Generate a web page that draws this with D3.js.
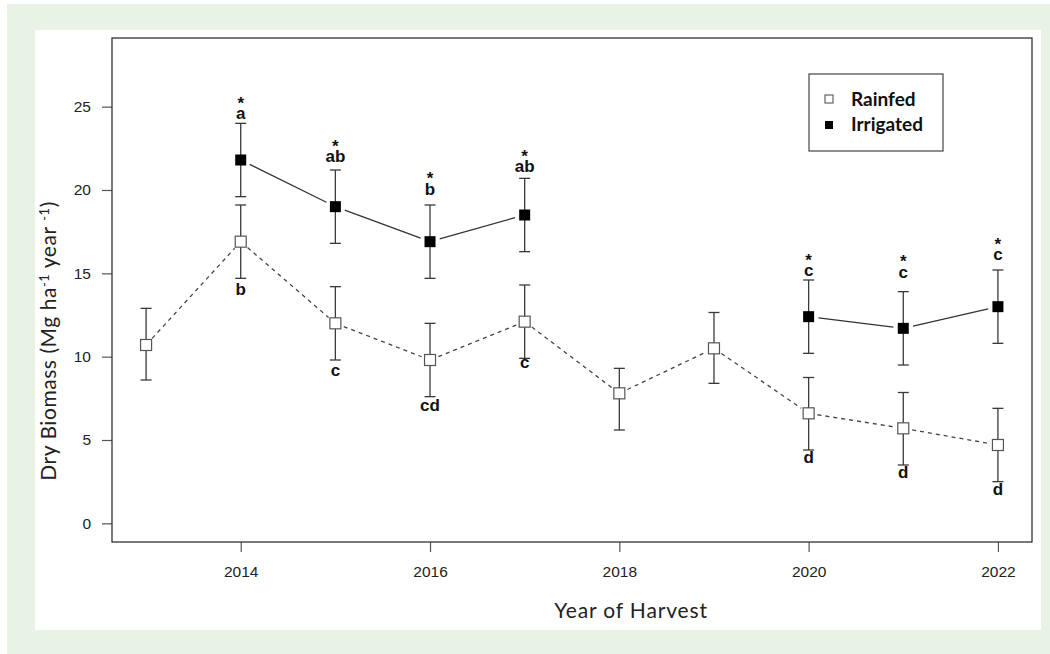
<!DOCTYPE html>
<html>
<head>
<meta charset="utf-8">
<script src="https://cdn.jsdelivr.net/npm/d3@7"></script>
<style>
  html, body { margin: 0; padding: 0; background: #ffffff; }
  svg { display: block; }
</style>
</head>
<body>
<svg id="chart" width="1050" height="654"></svg>
<script>
// Dry biomass by harvest year, means with error bars and significance letters
const rainfedYears   = [2013, 2014, 2015, 2016, 2017, 2018, 2019, 2020, 2021, 2022];
const rainfedMean    = [10.7, 16.9, 12.0, 9.8, 12.1, 7.8, 10.5, 6.6, 5.7, 4.7];
const rainfedLow     = [8.6, 14.7, 9.8, 7.6, 9.9, 5.6, 8.4, 4.4, 3.5, 2.5];
const rainfedHigh    = [12.9, 19.1, 14.2, 12.0, 14.3, 9.3, 12.65, 8.75, 7.85, 6.9];
const rainfedLetters = ["", "b", "c", "cd", "c", "", "", "d", "d", "d"];

const irrigatedYears   = [2014, 2015, 2016, 2017, 2020, 2021, 2022];
const irrigatedMean    = [21.8, 19.0, 16.9, 18.5, 12.4, 11.7, 13.0];
const irrigatedLow     = [19.6, 16.8, 14.7, 16.3, 10.2, 9.5, 10.8];
const irrigatedHigh    = [24.0, 21.2, 19.1, 20.7, 14.6, 13.9, 15.2];
const irrigatedLetters = ["a", "ab", "b", "ab", "c", "c", "c"];
const irrigatedStars   = ["*", "*", "*", "*", "*", "*", "*"];

const xTicks = [2014, 2016, 2018, 2020, 2022];
const yTicks = [0, 5, 10, 15, 20, 25];
const legendLabels = ["Rainfed", "Irrigated"];

// label spacing (px) between a bar end and its letter
const gapAboveIrrigated = [4, 8, 10.5, 6, 4, 14, 10];
const gapBelowRainfed   = [0, 17, 16, 14, 10, 0, 0, 13, 13, 13];

const svg = d3.select("#chart");

// page frame
svg.append("rect").attr("x", 7).attr("y", 4).attr("width", 1043).attr("height", 650).attr("fill", "#e8f3e6");
svg.append("rect").attr("x", 35).attr("y", 30).attr("width", 1006).attr("height", 600).attr("fill", "#ffffff");

const plotLeft = 112, plotRight = 1032, plotTop = 38, plotBottom = 542;
const xPad = (2022 - 2013) * 0.04, yPad = 28 * 0.04;
const x = d3.scaleLinear().domain([2013 - xPad, 2022 + xPad]).range([plotLeft, plotRight]);
const y = d3.scaleLinear().domain([0 - yPad, 28 + yPad]).range([plotBottom, plotTop]);

const tickFont = "'Liberation Sans', Arial, sans-serif";

// axes
const gx = svg.append("g").attr("transform", `translate(0,${plotBottom})`)
  .call(d3.axisBottom(x).tickValues(xTicks).tickFormat(d3.format("d")).tickSize(10).tickPadding(14).tickSizeOuter(0));
const gy = svg.append("g").attr("transform", `translate(${plotLeft},0)`)
  .call(d3.axisLeft(y).tickValues(yTicks).tickSize(10).tickPadding(11).tickSizeOuter(0));
[gx, gy].forEach(g => {
  g.select(".domain").remove();
  g.selectAll(".tick line").attr("stroke", "#555").attr("stroke-width", 1.2);
  g.selectAll(".tick text").attr("fill", "#222").style("font-family", tickFont).style("font-size", "15.5px");
});

// plot box
svg.append("rect").attr("x", plotLeft).attr("y", plotTop)
  .attr("width", plotRight - plotLeft).attr("height", plotBottom - plotTop)
  .attr("fill", "none").attr("stroke", "#333").attr("stroke-width", 1.3);

// connecting lines with gaps around markers
function gappedSegments(xs, ys, gap) {
  const segs = [];
  for (let i = 0; i < xs.length - 1; i++) {
    if (xs[i + 1] - xs[i] > 1) continue;
    const x0 = x(xs[i]), y0 = y(ys[i]), x1 = x(xs[i + 1]), y1 = y(ys[i + 1]);
    const len = Math.hypot(x1 - x0, y1 - y0);
    const ux = (x1 - x0) / len, uy = (y1 - y0) / len;
    segs.push([x0 + ux * gap, y0 + uy * gap, x1 - ux * gap, y1 - uy * gap]);
  }
  return segs;
}

svg.append("g").selectAll("line").data(gappedSegments(rainfedYears, rainfedMean, 9)).join("line")
  .attr("x1", d => d[0]).attr("y1", d => d[1]).attr("x2", d => d[2]).attr("y2", d => d[3])
  .attr("stroke", "#444").attr("stroke-width", 1.3).attr("stroke-dasharray", "4,4");

svg.append("g").selectAll("line").data(gappedSegments(irrigatedYears, irrigatedMean, 10)).join("line")
  .attr("x1", d => d[0]).attr("y1", d => d[1]).attr("x2", d => d[2]).attr("y2", d => d[3])
  .attr("stroke", "#333").attr("stroke-width", 1.3);

// error bars
function errorBars(xs, lo, hi) {
  const g = svg.append("g").attr("stroke", "#3a3a3a").attr("stroke-width", 1.3);
  xs.forEach((yr, i) => {
    const cx = x(yr);
    g.append("line").attr("x1", cx).attr("x2", cx).attr("y1", y(lo[i])).attr("y2", y(hi[i]));
    g.append("line").attr("x1", cx - 5.5).attr("x2", cx + 5.5).attr("y1", y(lo[i])).attr("y2", y(lo[i]));
    g.append("line").attr("x1", cx - 5.5).attr("x2", cx + 5.5).attr("y1", y(hi[i])).attr("y2", y(hi[i]));
  });
}
errorBars(rainfedYears, rainfedLow, rainfedHigh);
errorBars(irrigatedYears, irrigatedLow, irrigatedHigh);

// markers
const ms = 11;
svg.append("g").selectAll("rect").data(rainfedYears).join("rect")
  .attr("x", d => x(d) - ms / 2).attr("y", (d, i) => y(rainfedMean[i]) - ms / 2)
  .attr("width", ms).attr("height", ms).attr("fill", "#fff").attr("stroke", "#555").attr("stroke-width", 1.2);
svg.append("g").selectAll("rect").data(irrigatedYears).join("rect")
  .attr("x", d => x(d) - ms / 2).attr("y", (d, i) => y(irrigatedMean[i]) - ms / 2)
  .attr("width", ms).attr("height", ms).attr("fill", "#000");

// significance letters: star stacked above the letter in one text block
const letterFont = "'Liberation Sans', Arial, sans-serif";
const lab = svg.append("g").style("font-family", letterFont).style("font-size", "17px")
  .style("font-weight", "bold").attr("fill", "#111").attr("text-anchor", "middle");
irrigatedYears.forEach((yr, i) => {
  const base = y(irrigatedHigh[i]) - gapAboveIrrigated[i];
  const t = lab.append("text").attr("x", x(yr)).attr("y", base - 10.5);
  t.append("tspan").attr("x", x(yr)).text(irrigatedStars[i]);
  t.append("tspan").attr("x", x(yr)).attr("dy", 10.5).text(irrigatedLetters[i]);
});
rainfedYears.forEach((yr, i) => {
  if (!rainfedLetters[i]) return;
  lab.append("text").attr("x", x(yr)).attr("y", y(rainfedLow[i]) + gapBelowRainfed[i]).text(rainfedLetters[i]);
});

// legend
const lg = svg.append("g");
lg.append("rect").attr("x", 809).attr("y", 74).attr("width", 134).attr("height", 77)
  .attr("fill", "#fff").attr("stroke", "#444").attr("stroke-width", 1.2);
lg.append("rect").attr("x", 825).attr("y", 95).attr("width", 8).attr("height", 8)
  .attr("fill", "#fff").attr("stroke", "#444").attr("stroke-width", 1);
lg.append("rect").attr("x", 825).attr("y", 121).attr("width", 8).attr("height", 8).attr("fill", "#000");
lg.selectAll("text").data(legendLabels).join("text")
  .attr("x", 851).attr("y", (d, i) => 105.5 + i * 25)
  .style("font-family", "Lato, 'Open Sans', sans-serif").style("font-weight", "bold").style("font-size", "19px")
  .attr("fill", "#111").text(d => d);

// axis titles
const titleFont = "Lato, 'Open Sans', sans-serif";
svg.append("text").attr("x", 631).attr("y", 618).attr("text-anchor", "middle")
  .style("font-family", titleFont).style("font-size", "21px").style("letter-spacing", "0.85px")
  .attr("fill", "#222").text("Year of Harvest");

const yt = svg.append("text").attr("transform", "translate(56,341) rotate(-90)").attr("text-anchor", "middle")
  .style("font-family", titleFont).style("font-size", "21px").style("letter-spacing", "0.55px")
  .attr("fill", "#222");
yt.append("tspan").text("Dry Biomass (Mg ha");
yt.append("tspan").attr("dy", -7).style("font-size", "13px").text("-1");
yt.append("tspan").attr("dy", 7).text(" year ");
yt.append("tspan").attr("dy", -7).style("font-size", "13px").text("-1");
yt.append("tspan").attr("dy", 7).text(")");
</script>
</body>
</html>
